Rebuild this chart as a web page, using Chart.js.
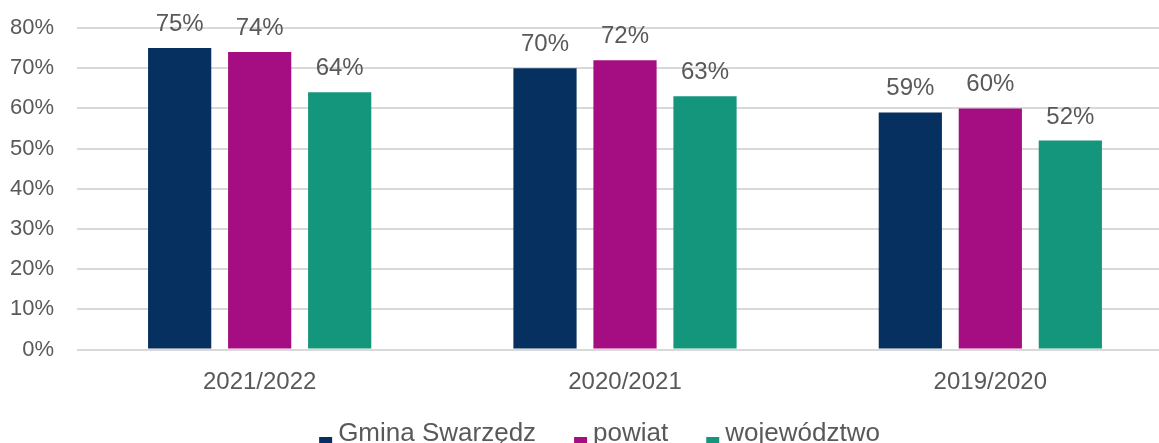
<!DOCTYPE html>
<html>
<head>
<meta charset="utf-8">
<script src="https://cdn.jsdelivr.net/npm/chart.js@4"></script>
<style>
html,body{margin:0;padding:0;background:#fff;overflow:hidden;}
#wrap{position:relative;width:1175px;height:452px;}
</style>
</head>
<body>
<div id="wrap"><canvas id="c"></canvas></div>
<script>
const categories = ['2021/2022', '2020/2021', '2019/2020'];
const seriesNames = ['Gmina Swarzędz', 'powiat', 'województwo'];
const gminaValues = [75, 70, 59];
const powiatValues = [74, 72, 60];
const wojewodztwoValues = [64, 63, 52];
const valueLabels = [['75%', '70%', '59%'], ['74%', '72%', '60%'], ['64%', '63%', '52%']];
const yTicks = [0, 10, 20, 30, 40, 50, 60, 70, 80];

const colors = ['#06305F', '#A50E82', '#14967C'];
const FONT = "'Liberation Sans', Arial, sans-serif";
const TEXT = '#595959';

const labelPlugin = {
  id: 'barLabels',
  afterDatasetsDraw(chart) {
    const ctx = chart.ctx;
    ctx.save();
    ctx.font = '24px ' + FONT;
    ctx.fillStyle = TEXT;
    ctx.textAlign = 'center';
    ctx.textBaseline = 'alphabetic';
    chart.data.datasets.forEach((ds, i) => {
      const meta = chart.getDatasetMeta(i);
      meta.data.forEach((bar, j) => {
        ctx.fillText(valueLabels[i][j], bar.x, bar.y - 17);
      });
    });
    ctx.restore();
  }
};

const legendPlugin = {
  id: 'bottomLegend',
  afterDraw(chart) {
    const ctx = chart.ctx;
    ctx.save();
    ctx.font = '26px ' + FONT;
    ctx.textBaseline = 'alphabetic';
    ctx.textAlign = 'left';
    const box = 13, gapText = 6, gapItem = 38;
    const ds = chart.data.datasets;
    const widths = ds.map(d => ctx.measureText(d.label).width);
    let total = widths.reduce((a, w) => a + box + gapText + w, 0) + gapItem * (ds.length - 1);
    let x = chart.width / 2 + 12 - total / 2;
    const baseline = 441;
    ds.forEach((d, i) => {
      ctx.fillStyle = d.backgroundColor;
      ctx.fillRect(x, 437, box, box);
      ctx.fillStyle = TEXT;
      ctx.fillText(d.label, x + box + gapText, baseline);
      x += box + gapText + widths[i] + gapItem;
    });
    ctx.restore();
  }
};

new Chart(document.getElementById('c'), {
  type: 'bar',
  data: {
    labels: categories,
    datasets: [
      { label: seriesNames[0], data: gminaValues, backgroundColor: colors[0], borderWidth: 0 },
      { label: seriesNames[1], data: powiatValues, backgroundColor: colors[1], borderWidth: 0 },
      { label: seriesNames[2], data: wojewodztwoValues, backgroundColor: colors[2], borderWidth: 0 }
    ]
  },
  options: {
    responsive: true,
    maintainAspectRatio: false,
    animation: false,
    datasets: { bar: { categoryPercentage: 0.657, barPercentage: 0.79 } },
    layout: { padding: { left: 10, right: 2, top: 28, bottom: 38.5 } },
    plugins: {
      tooltip: { enabled: false },
      legend: { display: false }
    },
    scales: {
      x: {
        grid: { display: false },
        border: { display: false },
        ticks: { font: { family: FONT, size: 24 }, color: TEXT, padding: 10 },
        afterFit(scale) { scale.height = 64; }
      },
      y: {
        min: 0,
        max: 80,
        afterBuildTicks(scale) { scale.ticks = yTicks.map(v => ({ value: v })); },
        grid: { color: '#D9D9D9', lineWidth: 2, drawTicks: true, tickLength: 20, tickColor: 'rgba(0,0,0,0)' },
        border: { display: false },
        ticks: {
          font: { family: FONT, size: 22 },
          color: TEXT,
          padding: 3,
          callback: v => v + '%'
        },
        afterFit(scale) { scale.width = 67; }
      }
    }
  },
  plugins: [labelPlugin, legendPlugin]
});
</script>
</body>
</html>
